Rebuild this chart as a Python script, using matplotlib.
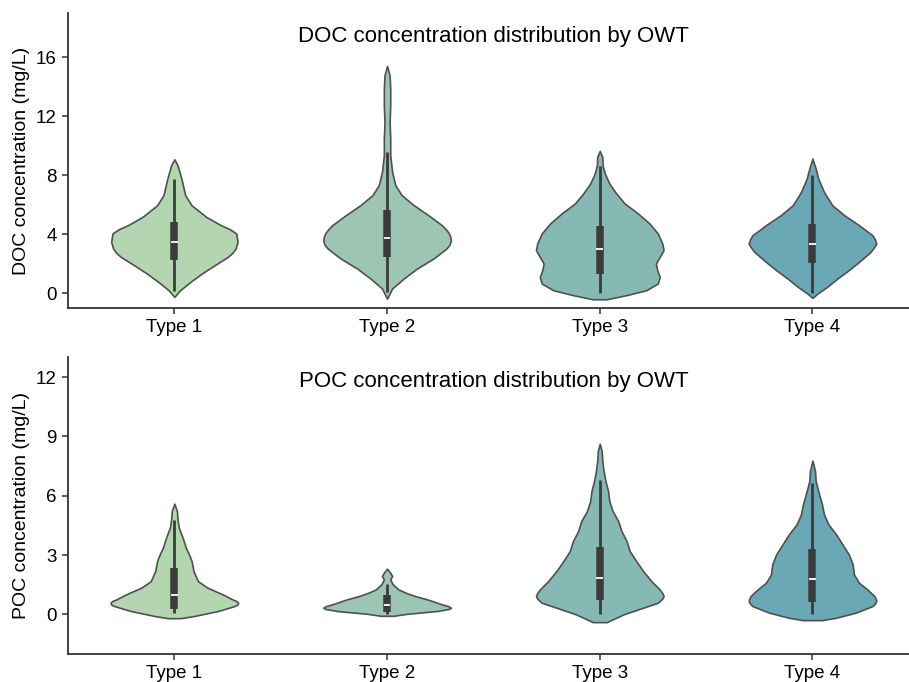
import matplotlib
matplotlib.use("Agg")
import matplotlib.pyplot as plt

plt.rcParams['font.family'] = ['Liberation Sans', 'DejaVu Sans']

categories = ["Type 1", "Type 2", "Type 3", "Type 4"]

# ---- DOC violin profiles (concentration, relative density) ----
doc_t1_y = [-0.23, 0.22, 0.78, 1.35, 1.91, 2.48, 2.75, 3.04, 3.49, 4.06, 4.35, 4.62, 5.18, 5.97, 6.65, 7.78, 8.67, 9.08]
doc_t1_d = [0.0, 0.09, 0.25, 0.43, 0.63, 0.84, 0.91, 0.96, 0.99, 0.97, 0.87, 0.73, 0.50, 0.27, 0.17, 0.11, 0.05, 0.0]
doc_t2_y = [-0.35, 0.34, 1.01, 1.69, 2.37, 3.04, 3.30, 3.60, 3.85, 4.06, 4.30, 4.62, 5.29, 5.97, 6.65, 7.32, 8.22, 9.35, 10.48, 11.6, 12.73, 13.86, 14.76, 15.39]
doc_t2_d = [0.0, 0.08, 0.26, 0.47, 0.73, 0.93, 0.98, 1.0, 0.99, 0.97, 0.93, 0.86, 0.65, 0.42, 0.23, 0.13, 0.08, 0.05, 0.05, 0.04, 0.05, 0.05, 0.04, 0.0]
doc_t3_y = [-0.39, -0.11, 0.22, 0.68, 1.12, 1.58, 2.03, 2.48, 2.93, 3.38, 4.06, 4.73, 5.41, 6.09, 6.76, 7.44, 8.11, 8.67, 9.24, 9.64]
doc_t3_d = [0.11, 0.42, 0.73, 0.91, 0.94, 0.90, 0.88, 0.94, 1.0, 0.98, 0.91, 0.78, 0.60, 0.39, 0.26, 0.15, 0.08, 0.045, 0.04, 0.0]
doc_t4_y = [-0.3, 0.0, 0.45, 1.01, 1.58, 2.14, 2.81, 3.15, 3.38, 3.65, 3.94, 4.62, 5.29, 5.97, 6.87, 7.78, 8.45, 9.13]
doc_t4_d = [0.0, 0.08, 0.23, 0.39, 0.57, 0.73, 0.91, 0.97, 1.0, 0.98, 0.94, 0.73, 0.50, 0.31, 0.18, 0.09, 0.05, 0.0]

# ---- POC violin profiles ----
poc_t1_y = [-0.19, -0.08, 0.17, 0.42, 0.50, 0.59, 0.68, 0.76, 1.01, 1.35, 1.68, 2.19, 2.70, 3.03, 3.37, 3.88, 4.38, 4.81, 5.23, 5.6]
poc_t1_d = [0.10, 0.31, 0.68, 0.94, 0.99, 1.0, 0.97, 0.91, 0.76, 0.52, 0.37, 0.30, 0.27, 0.23, 0.18, 0.13, 0.07, 0.05, 0.04, 0.0]
poc_t2_y = [-0.07, 0.03, 0.17, 0.28, 0.34, 0.42, 0.51, 0.76, 0.93, 1.10, 1.26, 1.52, 1.77, 1.94, 2.11, 2.31]
poc_t2_d = [0.10, 0.31, 0.78, 0.97, 1.0, 0.96, 0.86, 0.63, 0.44, 0.29, 0.18, 0.09, 0.05, 0.08, 0.05, 0.0]
poc_t3_y = [-0.39, 0.0, 0.34, 0.59, 0.80, 0.93, 1.08, 1.26, 1.68, 2.19, 2.70, 3.20, 3.71, 4.21, 4.72, 5.23, 5.73, 6.24, 6.74, 7.25, 7.75, 8.26, 8.63]
poc_t3_d = [0.11, 0.37, 0.68, 0.91, 0.98, 1.0, 0.98, 0.94, 0.81, 0.68, 0.57, 0.47, 0.42, 0.34, 0.29, 0.20, 0.15, 0.13, 0.09, 0.06, 0.04, 0.03, 0.0]
poc_t4_y = [-0.29, -0.17, 0.09, 0.42, 0.55, 0.67, 0.80, 0.93, 1.26, 1.60, 2.02, 2.53, 3.03, 3.54, 4.05, 4.55, 5.06, 5.56, 6.24, 6.74, 7.25, 7.78]
poc_t4_d = [0.15, 0.37, 0.68, 0.94, 0.98, 1.0, 0.99, 0.97, 0.86, 0.73, 0.65, 0.63, 0.57, 0.47, 0.37, 0.25, 0.18, 0.15, 0.09, 0.05, 0.04, 0.0]

# ---- box statistics ----
doc_whislo = [0.15, 0.07, 0.0, 0.0]
doc_q1 = [2.25, 2.48, 1.35, 2.05]
doc_med = [3.50, 3.76, 3.03, 3.34]
doc_q3 = [4.82, 5.63, 4.60, 4.73]
doc_whishi = [7.78, 9.58, 8.65, 8.0]

poc_whislo = [0.05, 0.02, 0.0, 0.0]
poc_q1 = [0.29, 0.12, 0.72, 0.64]
poc_med = [0.96, 0.47, 1.82, 1.81]
poc_q3 = [2.33, 0.96, 3.42, 3.29]
poc_whishi = [4.75, 1.55, 6.79, 6.66]

colors = ["#b3d6b1", "#9cc6b3", "#86b9b4", "#6ba8b6"]
edge = "#505050"
box_c = "#3b3b3b"
half_width = 0.30


def draw_panel(ax, profiles, whislo, q1, med, q3, whishi, title, ylabel, ylim, yticks):
    for i, (yy, dd) in enumerate(profiles):
        left = [i - half_width * d for d in dd]
        right = [i + half_width * d for d in dd]
        ax.fill_betweenx(yy, left, right, facecolor=colors[i], edgecolor=edge,
                         linewidth=1.2, joinstyle='round', zorder=2)
        ax.vlines(i, whislo[i], whishi[i], color=box_c, linewidth=2.0, zorder=3)
        ax.vlines(i, q1[i], q3[i], color=box_c, linewidth=5.4, zorder=4)
        ax.hlines(med[i], i - 0.016, i + 0.016, color="white", linewidth=1.3, zorder=5)
    ax.set_xlim(-0.5, 3.5)
    ax.set_ylim(*ylim)
    ax.set_yticks(yticks)
    ax.set_xticks(range(len(categories)))
    ax.set_xticklabels(categories)
    ax.tick_params(axis='both', labelsize=13.5, color="#333333", width=1.1, length=4.5)
    ax.set_ylabel(ylabel, fontsize=14)
    ax.text(0.5, 0.92, title, transform=ax.transAxes, ha='center', va='center', fontsize=16)
    for s in ['top', 'right']:
        ax.spines[s].set_visible(False)
    for s in ['left', 'bottom']:
        ax.spines[s].set_color("#333333")
        ax.spines[s].set_linewidth(1.3)


fig = plt.figure(figsize=(9.09, 6.82), dpi=100)
ax1 = fig.add_axes([0.0748, 0.548, 0.936, 0.4334])
ax2 = fig.add_axes([0.0748, 0.0411, 0.936, 0.435])

draw_panel(ax1,
           [(doc_t1_y, doc_t1_d), (doc_t2_y, doc_t2_d), (doc_t3_y, doc_t3_d), (doc_t4_y, doc_t4_d)],
           doc_whislo, doc_q1, doc_med, doc_q3, doc_whishi,
           "DOC concentration distribution by OWT", "DOC concentration (mg/L)",
           (-1, 19), [0, 4, 8, 12, 16])
draw_panel(ax2,
           [(poc_t1_y, poc_t1_d), (poc_t2_y, poc_t2_d), (poc_t3_y, poc_t3_d), (poc_t4_y, poc_t4_d)],
           poc_whislo, poc_q1, poc_med, poc_q3, poc_whishi,
           "POC concentration distribution by OWT", "POC concentration (mg/L)",
           (-2, 13), [0, 3, 6, 9, 12])

fig.savefig("out.png", dpi=100)
